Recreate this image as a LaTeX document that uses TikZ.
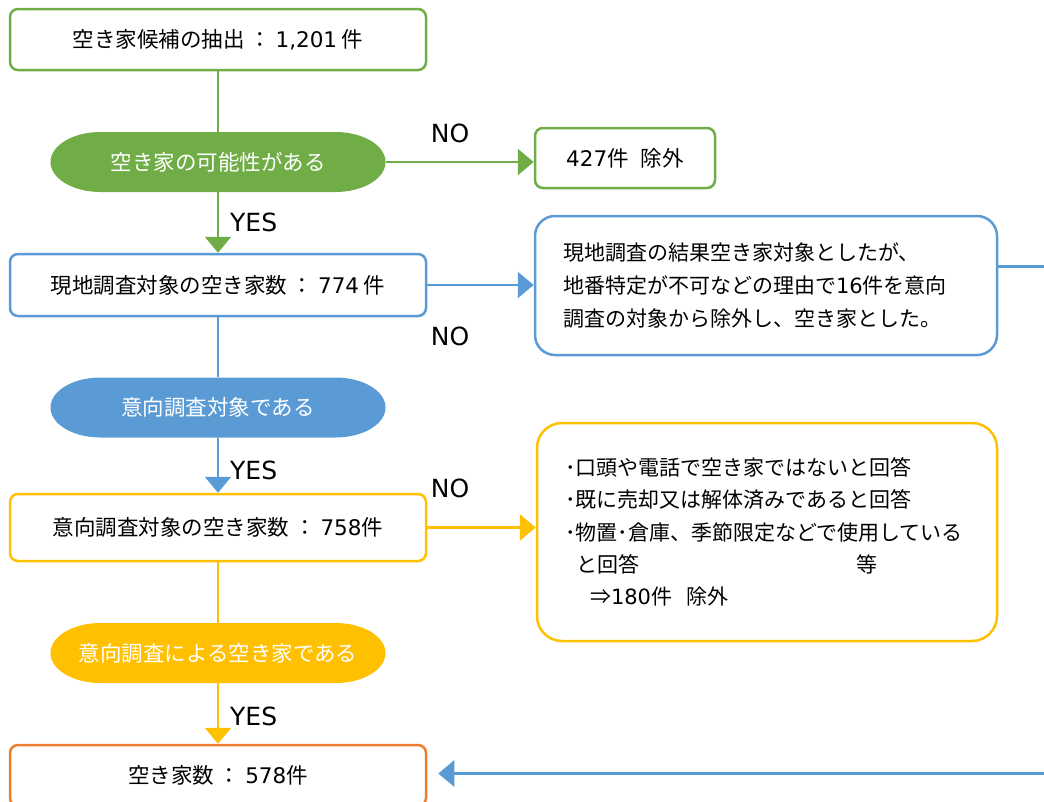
\documentclass[tikz,border=0pt]{standalone}
\usepackage{fontspec}
\setmainfont{Noto Sans CJK JP}
\newfontfamily\latf{DejaVu Sans}
\newcommand\lnum[1]{{\latf #1}}
\usetikzlibrary{arrows.meta,calc}
\definecolor{cgreen}{HTML}{70AD47}
\definecolor{cblue}{HTML}{5B9BD5}
\definecolor{cyellow}{HTML}{FFC000}
\definecolor{corange}{HTML}{ED7D31}
\begin{document}
\begin{tikzpicture}[x=1pt,y=1pt,
  box/.style={draw=#1, line width=2.5pt, rounded corners=8pt, fill=white,
    minimum width=416pt, minimum height=61pt, inner sep=0pt,
    font=\fontsize{21.5}{24}\selectfont},
  note/.style={draw=#1, line width=2.5pt, fill=white, align=left,
    inner xsep=28pt, inner ysep=0pt},
  term/.style={minimum width=335pt, minimum height=60pt, inner sep=0pt,
    text=white, font=\fontsize{21.5}{24}\selectfont,
    path picture={\fill[#1] ([xshift=50pt]path picture bounding box.north west)
      -- ([xshift=-50pt]path picture bounding box.north east)
      arc[start angle=90,end angle=-90,x radius=50pt,y radius=30pt]
      -- ([xshift=50pt]path picture bounding box.south west)
      arc[start angle=270,end angle=90,x radius=50pt,y radius=30pt] -- cycle;}},
  conn/.style={draw=#1, line width=2.7pt},
  arr/.style={conn=#1, -{Triangle[length=16pt,width=26pt]}},
  lbl/.style={font=\latf\fontsize{25}{28}\selectfont, inner sep=0pt}]
\useasboundingbox (0,0) rectangle (1044,-801);
\clip (0,0) rectangle (1044,-801);

\node[box=cgreen] (b1) at (218,-39.5) {空き家候補の抽出 ： \lnum{1,201} 件};
\node[term=cgreen] (e1) at (218,-162) {空き家の可能性がある};
\node[box=cgreen, minimum width=180pt, minimum height=60pt] (r1) at (625,-158) {\lnum{427}件\hspace{12pt}除外};
\node[box=cblue, minimum height=62pt] (b2) at (218,-285) {現地調査対象の空き家数 ： \lnum{774} 件};
\node[note=cblue, rounded corners=20pt, text width=406pt, minimum height=139pt,
  font=\fontsize{21}{33}\selectfont] (rb) at (766,-285.5)
  {現地調査の結果空き家対象としたが、\\地番特定が不可などの理由で\lnum{16}件を意向\\調査の対象から除外し、空き家とした。};
\node[term=cblue] (e2) at (218,-407.5) {意向調査対象である};
\node[box=cyellow, minimum height=67pt] (b3) at (218,-527.5) {意向調査対象の空き家数 ： \lnum{758}件};
\node[note=cyellow, rounded corners=25pt, text width=404pt, minimum height=218pt,
  font=\fontsize{21}{32.3}\selectfont] (yb) at (767,-532)
  {･口頭や電話で空き家ではないと回答\\･既に売却又は解体済みであると回答\\･物置･倉庫、季節限定などで使用している\\\hspace*{11pt}と回答\hspace{217pt}等\\\hspace*{25pt}⇒\lnum{180}件\hspace{14pt}除外};
\node[term=cyellow] (e3) at (218,-653) {意向調査による空き家である};
\node[box=corange] (b4) at (218,-775.5) {空き家数 ： \lnum{578}件};

\draw[conn=cgreen] (b1.south) -- (e1.north);
\draw[arr=cgreen] (e1.south) -- (b2.north);
\draw[arr=cgreen] (e1.east) -- (e1.east -| r1.west);
\draw[conn=cblue] (b2.south) -- (e2.north);
\draw[arr=cblue] (e2.south) -- (b3.north);
\draw[arr=cblue] (b2.east) -- (b2.east -| rb.west);
\draw[conn=cyellow] (b3.south) -- (e3.north);
\draw[arr=cyellow] (e3.south) -- (b4.north);
\draw[arr=cyellow] (b3.east) -- (b3.east -| yb.west);
\draw[arr=cblue] ([yshift=19pt]rb.east) -- ++(70,0) |- ([xshift=11pt,yshift=2pt]b4.east);

\node[lbl, anchor=west] (y1) at (230,-222) {YES};
\node[lbl, anchor=west] (y2) at (230,-470) {YES};
\node[lbl, anchor=west] (y3) at (230,-716) {YES};
\node[lbl] (n1) at (450,-133) {NO};
\node[lbl] (n2) at (450,-336) {NO};
\node[lbl] (n3) at (450,-488) {NO};
\end{tikzpicture}
\end{document}
